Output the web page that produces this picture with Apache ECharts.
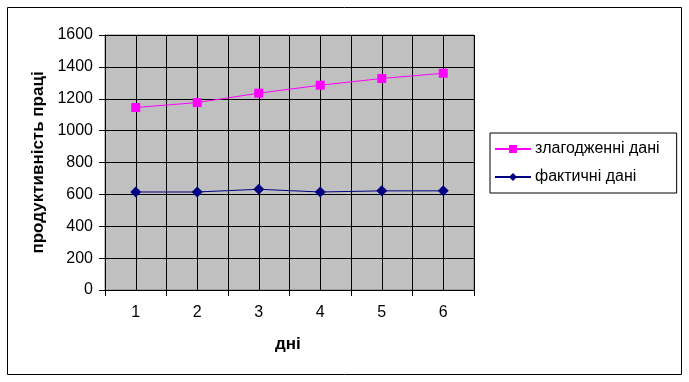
<!DOCTYPE html>
<html><head><meta charset="utf-8">
<script src="https://cdn.jsdelivr.net/npm/echarts@6/dist/echarts.min.js"></script>
<style>html,body{margin:0;padding:0;background:#fff}#c{width:689px;height:382px}</style>
</head><body><div id="c"></div>
<script>
const days = [1, 2, 3, 4, 5, 6];
const smoothed = [1145, 1176, 1235, 1285, 1327, 1360];
const actual = [615, 615, 632, 615, 622, 622];
const seriesNames = ['злагодженні дані', 'фактичні дані'];
const yTitle = 'продуктивність праці';
const xTitle = 'дні';

const chart = echarts.init(document.getElementById('c'));
const font = 'Liberation Sans, Arial, sans-serif';
chart.setOption({
  animation: false,
  backgroundColor: '#fff',
  grid: { left: 105, right: 215, top: 35, bottom: 92, show: true, backgroundColor: '#C0C0C0', borderColor: '#808080', borderWidth: 1 },
  graphic: [
    { type: 'rect', shape: { x: 7.5, y: 7.5, width: 674, height: 367 }, style: { fill: 'none', stroke: '#000', lineWidth: 1 }, z: 100 },
    { type: 'text', left: 275, top: 336, style: { text: xTitle, font: 'bold 17px ' + font, fill: '#000' } }
  ],
  legend: {
    orient: 'vertical', left: 490, top: 133,
    padding: [8, 17, 8, 4], itemGap: 12, itemWidth: 36, itemHeight: 10,
    borderColor: '#000', borderWidth: 1, backgroundColor: '#fff',
    textStyle: { fontFamily: font, fontSize: 16, color: '#000', padding: [0, 0, 0, -1] },
    data: seriesNames
  },
  xAxis: [{
    type: 'value', min: 0.5, max: 6.5, interval: 0.5,
    axisLine: { show: true, lineStyle: { color: '#000' } },
    axisTick: { show: false },
    splitLine: { show: true, lineStyle: { color: '#000', width: 1 } },
    axisLabel: { fontFamily: font, fontSize: 16, color: '#000', margin: 15,
      formatter: v => (Math.abs(v - Math.round(v)) < 1e-6 ? String(Math.round(v)) : '') }
  }, {
    type: 'category', position: 'bottom', data: days,
    axisLine: { show: false }, axisTick: { show: true, length: 6, lineStyle: { color: '#000' } },
    axisLabel: { show: false }, splitLine: { show: false }
  }],
  yAxis: {
    type: 'value', min: 0, max: 1600, interval: 200,
    name: yTitle, nameLocation: 'middle', nameGap: 58, nameRotate: 90,
    nameTextStyle: { fontFamily: font, fontSize: 17, fontWeight: 'bold', color: '#000' },
    axisLine: { show: true, lineStyle: { color: '#000' } },
    axisTick: { show: true, length: 6, lineStyle: { color: '#000' } },
    splitLine: { show: true, lineStyle: { color: '#000', width: 1 } },
    axisLabel: { fontFamily: font, fontSize: 16, color: '#000', margin: 12, formatter: v => String(v) }
  },
  series: [{
    name: seriesNames[0], type: 'line', xAxisIndex: 0,
    data: days.map((d, i) => [d, smoothed[i]]),
    symbol: 'rect', symbolSize: 9,
    lineStyle: { color: '#FF00FF', width: 1 }, itemStyle: { color: '#FF00FF' }
  }, {
    name: seriesNames[1], type: 'line', xAxisIndex: 0,
    data: days.map((d, i) => [d, actual[i]]),
    symbol: 'diamond', symbolSize: 11,
    lineStyle: { color: '#000080', width: 1 }, itemStyle: { color: '#000080' }
  }]
});
</script></body></html>
